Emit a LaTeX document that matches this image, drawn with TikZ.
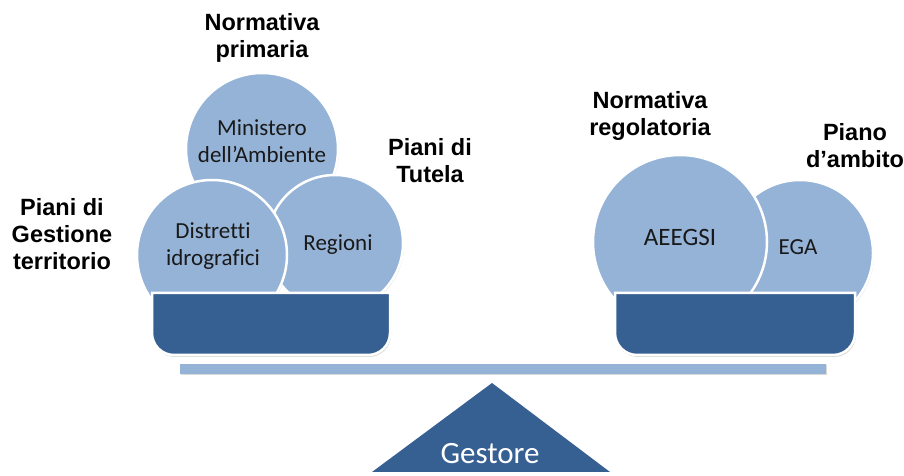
\documentclass[tikz,border=0pt]{standalone}
\usepackage{fontspec}
\setmainfont{Liberation Sans}
\newfontfamily\calfont[Ligatures=NoCommon]{Carlito}
\usetikzlibrary{shadows}
\definecolor{light}{HTML}{95B3D7}
\definecolor{dark}{HTML}{376092}
\tikzset{
  bubble/.style={circle, fill=light, draw=white, line width=2.5pt, inner sep=0pt,
     drop shadow={shadow xshift=1pt, shadow yshift=-1.5pt, opacity=0.25}},
  pan/.style={fill=dark, draw=white, line width=2.5pt,
     drop shadow={shadow xshift=1pt, shadow yshift=-2pt, opacity=0.3}},
  lbl/.style={font=\fontsize{23.5}{27}\selectfont\bfseries, align=center, text=black},
  ctext/.style={font=\calfont\fontsize{23}{27}\selectfont, align=center, text=black!90}
}
\begin{document}
\begin{tikzpicture}[x=1pt,y=1pt]
\useasboundingbox (0,0) rectangle (904,476);
% left group
\node[bubble, minimum size=152pt] (min) at (262,327) {};
\node[bubble, minimum size=136pt] (reg) at (335,233) {};
\node[bubble, minimum size=150pt] (dis) at (212,221) {};
\node[ctext] (mint) at (262,335) {Ministero\\dell’Ambiente};
\node[ctext] (dist) at (213,230) {Distretti\\idrografici};
\node[ctext] (regt) at (338,231) {Regioni};
\draw[pan] (152,183) -- (152,143) arc[start angle=180,end angle=270,radius=22]
  -- (368,121) arc[start angle=270,end angle=360,radius=22] -- (390,183) -- cycle;
% right group
\node[bubble, minimum size=146pt] (ega) at (800,223) {};
\node[bubble, minimum size=174pt] (aee) at (680,234) {};
\node[ctext, font=\calfont\fontsize{25}{29}\selectfont] (aeet) at (680,239) {AEEGSI};
\node[ctext] (egat) at (798,229) {EGA};
\draw[pan] (615,183) -- (615,143) arc[start angle=180,end angle=270,radius=22]
  -- (833,121) arc[start angle=270,end angle=360,radius=22] -- (855,183) -- cycle;
% plank
\fill[light, drop shadow={shadow xshift=1pt, shadow yshift=-1.5pt, opacity=0.3}] (180,102) rectangle (826,112);
% fulcrum
\fill[dark] (372,4) -- (492,93) -- (610,4) -- cycle;
\node[font=\calfont\fontsize{31}{34}\selectfont, text=white] (ges) at (490,22) {Gestore};
% labels
\node[lbl] (np) at (262,438) {Normativa\\primaria};
\node[lbl] (pt) at (430,315) {Piani di\\Tutela};
\node[lbl] (pg) at (62,242) {Piani di\\Gestione\\territorio};
\node[lbl] (nr) at (650,360) {Normativa\\regolatoria};
\node[lbl] (pa) at (855,330) {Piano\\d’ambito};
\end{tikzpicture}
\end{document}
